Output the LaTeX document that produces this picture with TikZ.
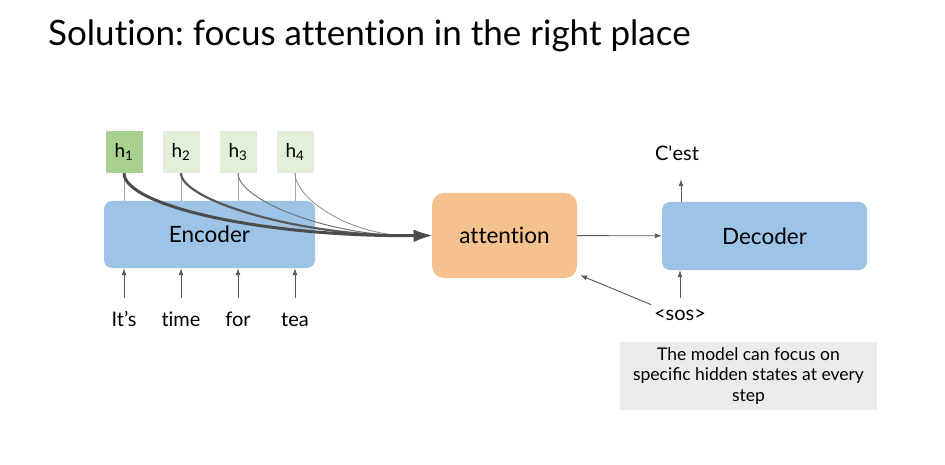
\documentclass[tikz,border=0pt]{standalone}
\usepackage{fontspec}
\setmainfont{Lato}[Ligatures={TeX,NoCommon}]
\usetikzlibrary{arrows.meta, positioning}
\definecolor{hdark}{HTML}{A9D18E}
\definecolor{hlight}{HTML}{E2F0D9}
\definecolor{encblue}{HTML}{9DC3E6}
\definecolor{attorange}{HTML}{F5C18E}
\definecolor{notegray}{HTML}{EBEBEB}
\definecolor{arrowgray}{HTML}{595959}
\tikzstyle{hbox} = [rectangle, minimum width=37pt, minimum height=42pt, font=\fontsize{19}{22}\selectfont]
\tikzstyle{block} = [rectangle, rounded corners=8pt, font=\fontsize{22.5}{26}\selectfont]
\tikzstyle{word} = [inner sep=0pt, text height=14pt, text depth=4pt, font=\fontsize{20}{24}\selectfont]
\tikzstyle{line} = [draw, arrowgray, line width=0.9pt, -{Latex[length=7pt,width=5pt]}]
\tikzstyle{stem} = [draw, gray!70, line width=0.6pt]
\tikzstyle{focus} = [draw, -{Latex[length=18pt,width=12pt,fill=black!75]}]

\begin{document}
\frenchspacing
\begin{tikzpicture}[x=1pt, y=-1pt]
	\useasboundingbox (0,0) rectangle (945,465);
	\node [anchor=base west, inner sep=0pt, font=\fontsize{35}{40}\selectfont] (title) at (48,46) {Solution: focus attention in the right place};

	% encoder side
	\node [block, fill=encblue, minimum width=211pt, minimum height=67pt] (enc) at (209.5,234.5) {Encoder};
	\node [hbox, fill=hdark] (h1) at (124,152) {h\textsubscript{1}};
	\node [hbox, fill=hlight] (h2) at (181,152) {h\textsubscript{2}};
	\node [hbox, fill=hlight] (h3) at (238,152) {h\textsubscript{3}};
	\node [hbox, fill=hlight] (h4) at (295,152) {h\textsubscript{4}};
	\node [word, anchor=base] (w1) at (124,326) {It’s};
	\node [word, anchor=base] (w2) at (181,326) {time};
	\node [word, anchor=base] (w3) at (238,326) {for};
	\node [word, anchor=base] (w4) at (295,326) {tea};

	% attention and decoder
	\node [block, fill=attorange, rounded corners=12pt, minimum width=145pt, minimum height=85pt] (att) at (504.5,235.5) {attention};
	\node [block, fill=encblue, minimum width=205pt, minimum height=68pt] (dec) at (764.5,236) {Decoder};
	\node [word, anchor=base] (cest) at (677,161) {C\textquotesingle est};
	\node [word, anchor=base] (sos) at (680,320) {<sos>};
	\node [fill=notegray, minimum width=257pt, minimum height=68pt, align=center, font=\fontsize{17.5}{20.5}\selectfont] (note) at (748.5,376) {The model can focus on\\speciﬁc hidden states at every\\step};

	\path [stem] (h1) -- (h1 |- enc.north);
	\path [stem] (h2) -- (h2 |- enc.north);
	\path [stem] (h3) -- (h3 |- enc.north);
	\path [stem] (h4) -- (h4 |- enc.north);

	\path [line, shorten <=14pt] (w1.north) -- (w1 |- enc.south);
	\path [line, shorten <=14pt] (w2.north) -- (w2 |- enc.south);
	\path [line, shorten <=14pt] (w3.north) -- (w3 |- enc.south);
	\path [line, shorten <=14pt] (w4.north) -- (w4 |- enc.south);

	% hidden states into attention
	\path [focus, black!45, line width=0.8pt] (h4.south) .. controls (295,198) and (350,237) .. (att.west);
	\path [focus, black!55, line width=1pt] (h3.south) .. controls (238,200) and (330,237) .. (att.west);
	\path [focus, black!65, line width=2.2pt] (h2.south) .. controls (181,200) and (300,237) .. (att.west);
	\path [focus, black!70, line width=3pt] (h1.south) .. controls (124,205) and (260,237) .. (att.west);

	\path [line] (att) -- (dec);
	\path [line, shorten >=14pt] ([xshift=4pt]cest.south |- dec.north) -- ([xshift=4pt]cest.south);
	\path [line, shorten <=8pt] (sos.north) -- (sos |- dec.south);
	\path [line, shorten <=3pt] (sos.north west) -- ([xshift=3pt, yshift=3pt]att.south east);
\end{tikzpicture}
\end{document}
